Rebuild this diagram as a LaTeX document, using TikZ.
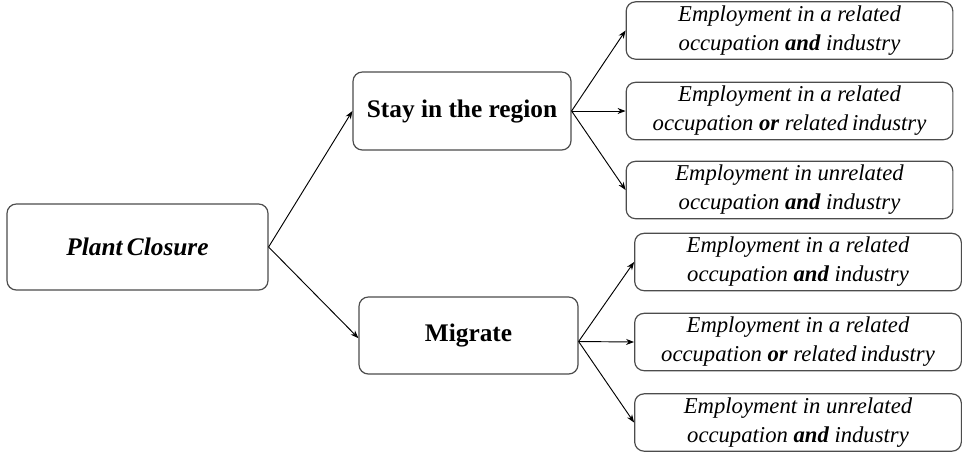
\documentclass[tikz,border=0pt]{standalone}
\usepackage{fontspec}
\setmainfont{Liberation Serif}
\usepackage{tikz}
\usetikzlibrary{shapes,arrows.meta,positioning}

\begin{document}
\begin{tikzpicture}[
    x=0.75pt, y=-0.75pt,
    topbox/.style={rectangle, draw=black!70, line width=0.9pt, rounded corners=7pt, align=center, inner sep=0pt, font=\fontsize{19}{23}\selectfont\bfseries},
    outcome/.style={rectangle, draw=black!70, line width=0.9pt, rounded corners=7pt, align=center, inner sep=0pt, minimum width=245pt, minimum height=43pt, font=\fontsize{17}{21.75}\selectfont\itshape},
    arrow/.style={-{Stealth[length=6pt, width=4.5pt]}, line width=0.7pt}
]
    \useasboundingbox (0,0) rectangle (962,455);

    % Start and the two choices
    \node[topbox, minimum width=195.75pt, minimum height=64.5pt] (closure) at (137.5,247) {\itshape Plant\,Closure};
    \node[topbox, minimum width=163.5pt, minimum height=58.5pt] (stay) at (462,111) {Stay in the region};
    \node[topbox, minimum width=164.25pt, minimum height=57.75pt] (migrate) at (468.5,335.5) {Migrate};

    % Outcomes when staying
    \node[outcome] (stayA) at (789.5,30.5) {Employment in a related\\occupation \textbf{and} industry};
    \node[outcome] (stayB) at (789.5,111) {Employment in a related\\occupation \textbf{or} related\,industry};
    \node[outcome] (stayC) at (789.5,190) {Employment in unrelated\\occupation \textbf{and} industry};

    % Outcomes when migrating
    \node[outcome] (migA) at (798,262) {Employment in a related\\occupation \textbf{and} industry};
    \node[outcome] (migB) at (798,342) {Employment in a related\\occupation \textbf{or} related\,industry};
    \node[outcome] (migC) at (798,422.5) {Employment in unrelated\\occupation \textbf{and} industry};

    % Connections
    \draw[arrow] (closure.east) -- (stay.west);
    \draw[arrow] (closure.east) -- ([yshift=-2pt]migrate.west);
    \foreach \o in {stayA,stayB,stayC}
        \draw[arrow] (stay.east) -- (\o.west);
    \foreach \o in {migA,migB,migC}
        \draw[arrow] ([yshift=-4.5pt]migrate.east) -- (\o.west);
\end{tikzpicture}
\end{document}
